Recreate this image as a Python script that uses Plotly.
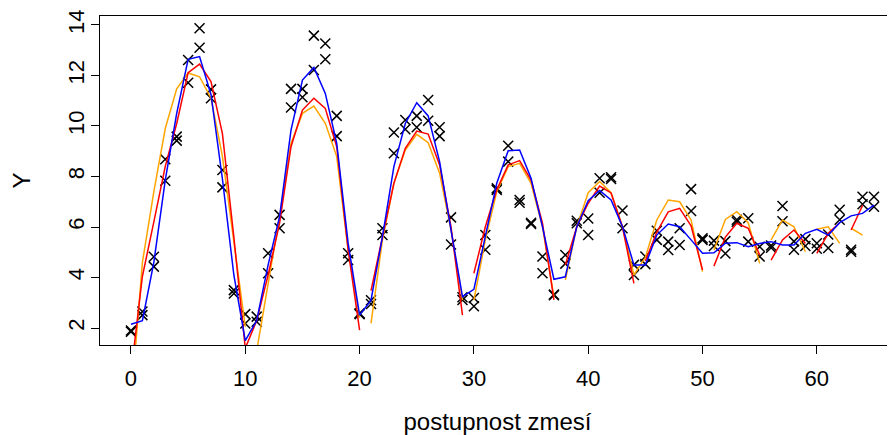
import plotly.graph_objects as go

# ---------------- data ----------------
x_vals = list(range(66))

# two measured replicates per position
obs_a = [1.90, 2.65, 4.82, 8.68, 9.58, 12.61, 13.87, 11.45, 8.26, 3.50,
         2.55, 2.45, 4.96, 6.48, 11.47, 11.47, 13.58, 13.27, 10.40, 4.96,
         2.58, 3.10, 5.95, 9.74, 10.24, 10.40, 11.03, 9.95, 6.38, 3.22,
         3.19, 5.68, 7.53, 9.22, 7.07, 6.17, 4.83, 3.33, 4.89, 6.25,
         6.34, 7.93, 7.97, 6.65, 4.50, 4.83, 5.85, 5.42, 5.95, 7.50,
         5.55, 5.46, 5.44, 6.29, 6.35, 5.22, 5.27, 6.83, 5.43, 5.52,
         5.36, 5.70, 6.68, 5.10, 7.20, 7.20]
obs_b = [1.85, 2.51, 4.43, 7.83, 9.42, 11.71, 13.10, 11.10, 7.57, 3.37,
         2.18, 2.25, 4.17, 5.95, 10.73, 11.14, 12.22, 12.64, 9.60, 4.69,
         2.55, 2.95, 5.68, 8.92, 9.87, 9.95, 10.21, 9.60, 5.31, 3.11,
         2.86, 5.10, 7.47, 8.59, 6.96, 6.12, 4.17, 3.30, 4.55, 6.15,
         5.68, 7.36, 7.90, 5.95, 4.10, 4.53, 5.49, 5.09, 5.29, 6.63,
         5.49, 5.25, 4.95, 6.21, 5.42, 4.83, 5.18, 6.23, 5.10, 5.25,
         5.14, 5.17, 6.29, 5.02, 6.90, 6.80]

fit_orange = [-1.0, 4.6, 7.4, 9.9, 11.47, 12.1, 11.95, 11.1, 8.8, 5.4,
              2.05, 1.1, 3.8, 6.41, 9.31, 10.50, 10.79, 10.11, 8.79, 5.09,
              2.4, 2.18, 5.49, 7.73, 9.05, 9.67, 9.34, 8.13, 5.88, 3.1,
              3.1, 5.49, 7.40, 8.39, 8.52, 7.73, 6.01, 3.24, 3.9, 6.01,
              7.36, 7.8, 7.36, 6.0, 4.1, 4.8, 6.28, 7.07, 7.0, 6.28,
              4.23, 5.09, 6.3, 6.61, 6.17, 4.56, 5.49, 6.28, 6.01, 5.02,
              5.91, 6.01, 5.35, 5.95, 5.68, 6.1]
breaks_orange = [10, 20, 29, 37, 50, 55, 59, 62, 64]

fit_red = [0.2, 4.05, 6.2, 8.4, 10.1, 12.11, 12.45, 11.76, 9.7, 5.6,
           1.2, 2.3, 4.1, 6.15, 9.18, 10.63, 11.10, 10.70, 9.18, 5.09,
           1.92, 3.48, 5.62, 7.73, 9.12, 9.80, 9.68, 8.46, 6.01, 2.51,
           4.17, 6.01, 7.47, 8.46, 8.63, 7.86, 6.15, 3.11, 4.5, 6.01,
           6.94, 7.62, 7.35, 6.0, 3.77, 4.65, 5.8, 6.6, 6.74, 6.05,
           4.3, 4.45, 5.6, 6.15, 5.95, 4.89, 4.69, 5.49, 5.88, 5.35,
           4.96, 5.75, 6.17, 5.88, 6.85, 7.4]
breaks_red = [20, 29, 37, 44, 50, 55, 59, 62, 64]

fit_blue = [2.15, 2.29, 4.6, 7.86, 10.5, 12.64, 12.75, 11.25, 7.9, 4.1,
            1.5, 2.3, 4.5, 6.41, 9.84, 11.82, 12.32, 11.29, 9.31, 5.35,
            2.51, 3.1, 5.62, 8.39, 10.1, 10.92, 10.40, 8.59, 5.88, 3.24,
            3.53, 5.7, 7.73, 9.02, 9.05, 7.93, 6.01, 3.93, 4.03, 6.01,
            7.04, 7.45, 7.07, 6.01, 4.50, 4.50, 5.68, 6.12, 6.01, 5.49,
            4.96, 4.98, 5.36, 5.38, 5.22, 5.35, 5.42, 5.29, 5.29, 5.75,
            5.91, 5.68, 6.17, 6.44, 6.54, 6.87]
breaks_blue = []

x_ticks = [0, 10, 20, 30, 40, 50, 60]
y_ticks = [2, 4, 6, 8, 10, 12, 14]
x_title = "postupnost zmesí"
y_title = "Y"


def segmented(xs, ys, breaks):
    ox, oy = [], []
    for xv, yv in zip(xs, ys):
        ox.append(xv)
        oy.append(yv)
        if xv in breaks:
            ox.append(xv + 0.5)
            oy.append(None)
    return ox, oy


FONT = "Liberation Sans, Arial, Helvetica, sans-serif"

fig = go.Figure()

fig.add_trace(go.Scatter(
    x=x_vals + x_vals, y=obs_a + obs_b, mode="markers",
    marker=dict(symbol="x-thin", size=10, color="black",
                line=dict(color="black", width=1.5)),
    showlegend=False, hoverinfo="x+y"))

for ys, br, col in [(fit_orange, breaks_orange, "orange"),
                    (fit_red, breaks_red, "red"),
                    (fit_blue, breaks_blue, "blue")]:
    sx, sy = segmented(x_vals, ys, br)
    fig.add_trace(go.Scatter(x=sx, y=sy, mode="lines",
                             line=dict(color=col, width=1.5),
                             connectgaps=False, showlegend=False))

# the page body has an 8px margin, so the figure is sized to fit the window
fig.update_layout(
    width=887, height=427,
    margin=dict(l=92, r=0, t=8, b=90),
    paper_bgcolor="white", plot_bgcolor="white",
    font=dict(family=FONT, size=22, color="black"),
    xaxis=dict(range=[-2.71, 66.84], tickvals=x_ticks, automargin=False,
               ticks="outside", ticklen=8, tickwidth=1, tickcolor="black",
               showline=True, linecolor="black", linewidth=1, mirror=True,
               showgrid=False, zeroline=False,
               tickfont=dict(size=22), ticklabelstandoff=6,
               title=dict(text=x_title, font=dict(size=24), standoff=22)),
    yaxis=dict(range=[1.327, 14.356], tickvals=y_ticks, automargin=False,
               ticks="outside", ticklen=8, tickwidth=1, tickcolor="black",
               showline=True, linecolor="black", linewidth=1, mirror=False,
               showgrid=False, zeroline=False, tickangle=-90,
               tickfont=dict(size=22), ticklabelstandoff=-2,
               title=dict(text=y_title, font=dict(size=24), standoff=26)),
)

fig.write_html("out.html")
